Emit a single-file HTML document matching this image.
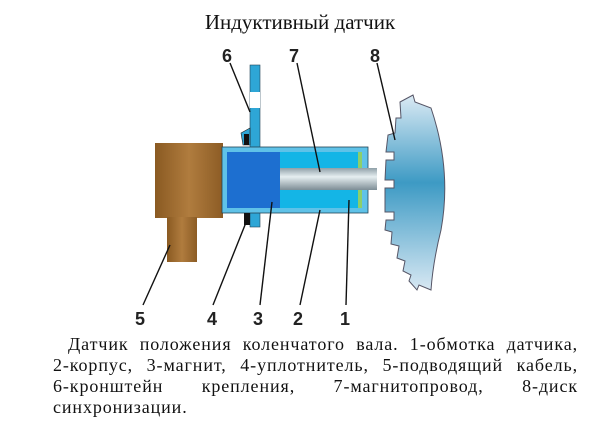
<!DOCTYPE html>
<html><head><meta charset="utf-8"><style>
html,body{margin:0;padding:0;background:#fff;width:600px;height:425px;overflow:hidden;position:relative}
.t{position:absolute;font-family:"Liberation Serif",serif;color:#111}
.l{position:absolute;left:53px;width:525px;font-family:"Liberation Serif",serif;font-size:18px;letter-spacing:0.9px;line-height:20px;text-align:justify;text-align-last:justify;white-space:nowrap;color:#111}
</style></head><body>
<div class="t" style="left:0;width:600px;top:10px;text-align:center;font-size:21px">Индуктивный датчик</div>
<svg width="600" height="425" style="position:absolute;left:0;top:0">
<defs>
<linearGradient id="d" x1="0" y1="0" x2="0" y2="1"><stop offset="0" stop-color="#dbeaf4"/><stop offset="0.45" stop-color="#3d9ac4"/><stop offset="1" stop-color="#d8e8f3"/></linearGradient>
<linearGradient id="r" x1="0" y1="0" x2="0" y2="1"><stop offset="0" stop-color="#8fa0a8"/><stop offset="0.4" stop-color="#e6eef1"/><stop offset="1" stop-color="#7d8d95"/></linearGradient>
<linearGradient id="b" x1="0" y1="0" x2="1" y2="0"><stop offset="0" stop-color="#8a5a22"/><stop offset="0.5" stop-color="#b07c3e"/><stop offset="1" stop-color="#8c5c25"/></linearGradient>
</defs>
<path d="M400,102 L413,95 L415,102 L431,108 Q452,170 441,230 Q433,262 431,290 L419,285 L417,290 L409,281 L411,275 L403,271 L405,261 L397,258 L399,246 L391,244 L392,232 L385,230 L386,220 L394,220 L394,212 L385,212 L385,188 L394,188 L394,180 L385,180 L386,160 L394,160 L394,152 L386,152 L388,135 L395,133 L396,118 L401,118 Z" fill="url(#d)" stroke="#556" stroke-width="1"/>
<rect x="155" y="143" width="68" height="75" fill="url(#b)"/>
<rect x="167" y="217" width="30" height="45" fill="url(#b)"/>
<rect x="250" y="65" width="10" height="162" fill="#2ea6d6" stroke="#245" stroke-width="0.6"/>
<rect x="250" y="92" width="10" height="16" fill="#fff"/>
<path d="M241,133 L250,128 L250,145 L243,145 Z" fill="#2ea6d6" stroke="#222" stroke-width="0.6"/>
<rect x="244" y="134" width="5" height="11" fill="#111"/>
<rect x="222" y="147" width="146" height="66" fill="#5fc2e8" stroke="#245" stroke-width="0.8"/>
<rect x="227" y="152" width="53" height="56" fill="#1d6fd0"/>
<rect x="280" y="152" width="82" height="56" fill="#14b5e6"/>
<rect x="358" y="152" width="4" height="56" fill="#8dcf6a"/>
<rect x="280" y="168" width="97" height="22" fill="url(#r)"/>
<rect x="244" y="213" width="6" height="12" fill="#111"/>
<g stroke="#111" stroke-width="1.4" fill="none">
<line x1="230" y1="63" x2="250" y2="112"/>
<line x1="297" y1="63" x2="320" y2="172"/>
<line x1="377" y1="63" x2="395" y2="140"/>
<line x1="143" y1="305" x2="170" y2="245"/>
<line x1="213" y1="305" x2="247" y2="220"/>
<line x1="260" y1="305" x2="272" y2="202"/>
<line x1="300" y1="305" x2="320" y2="210"/>
<line x1="346" y1="305" x2="349" y2="200"/>
</g>
<g font-family="Liberation Sans,sans-serif" font-weight="bold" font-size="18" fill="#222" text-anchor="middle">
<text x="227" y="62">6</text><text x="294" y="62">7</text><text x="375" y="62">8</text>
<text x="140" y="325">5</text><text x="212" y="325">4</text><text x="258" y="325">3</text><text x="298" y="325">2</text><text x="345" y="325">1</text>
</g>
</svg>
<div class="l" style="top:334px;left:68px;width:510px">Датчик положения коленчатого вала. 1-обмотка датчика,</div>
<div class="l" style="top:355px">2-корпус, 3-магнит, 4-уплотнитель, 5-подводящий кабель,</div>
<div class="l" style="top:376px">6-кронштейн крепления, 7-магнитопровод, 8-диск</div>
<div class="l" style="top:397px;text-align-last:left">синхронизации.</div>
</body></html>
